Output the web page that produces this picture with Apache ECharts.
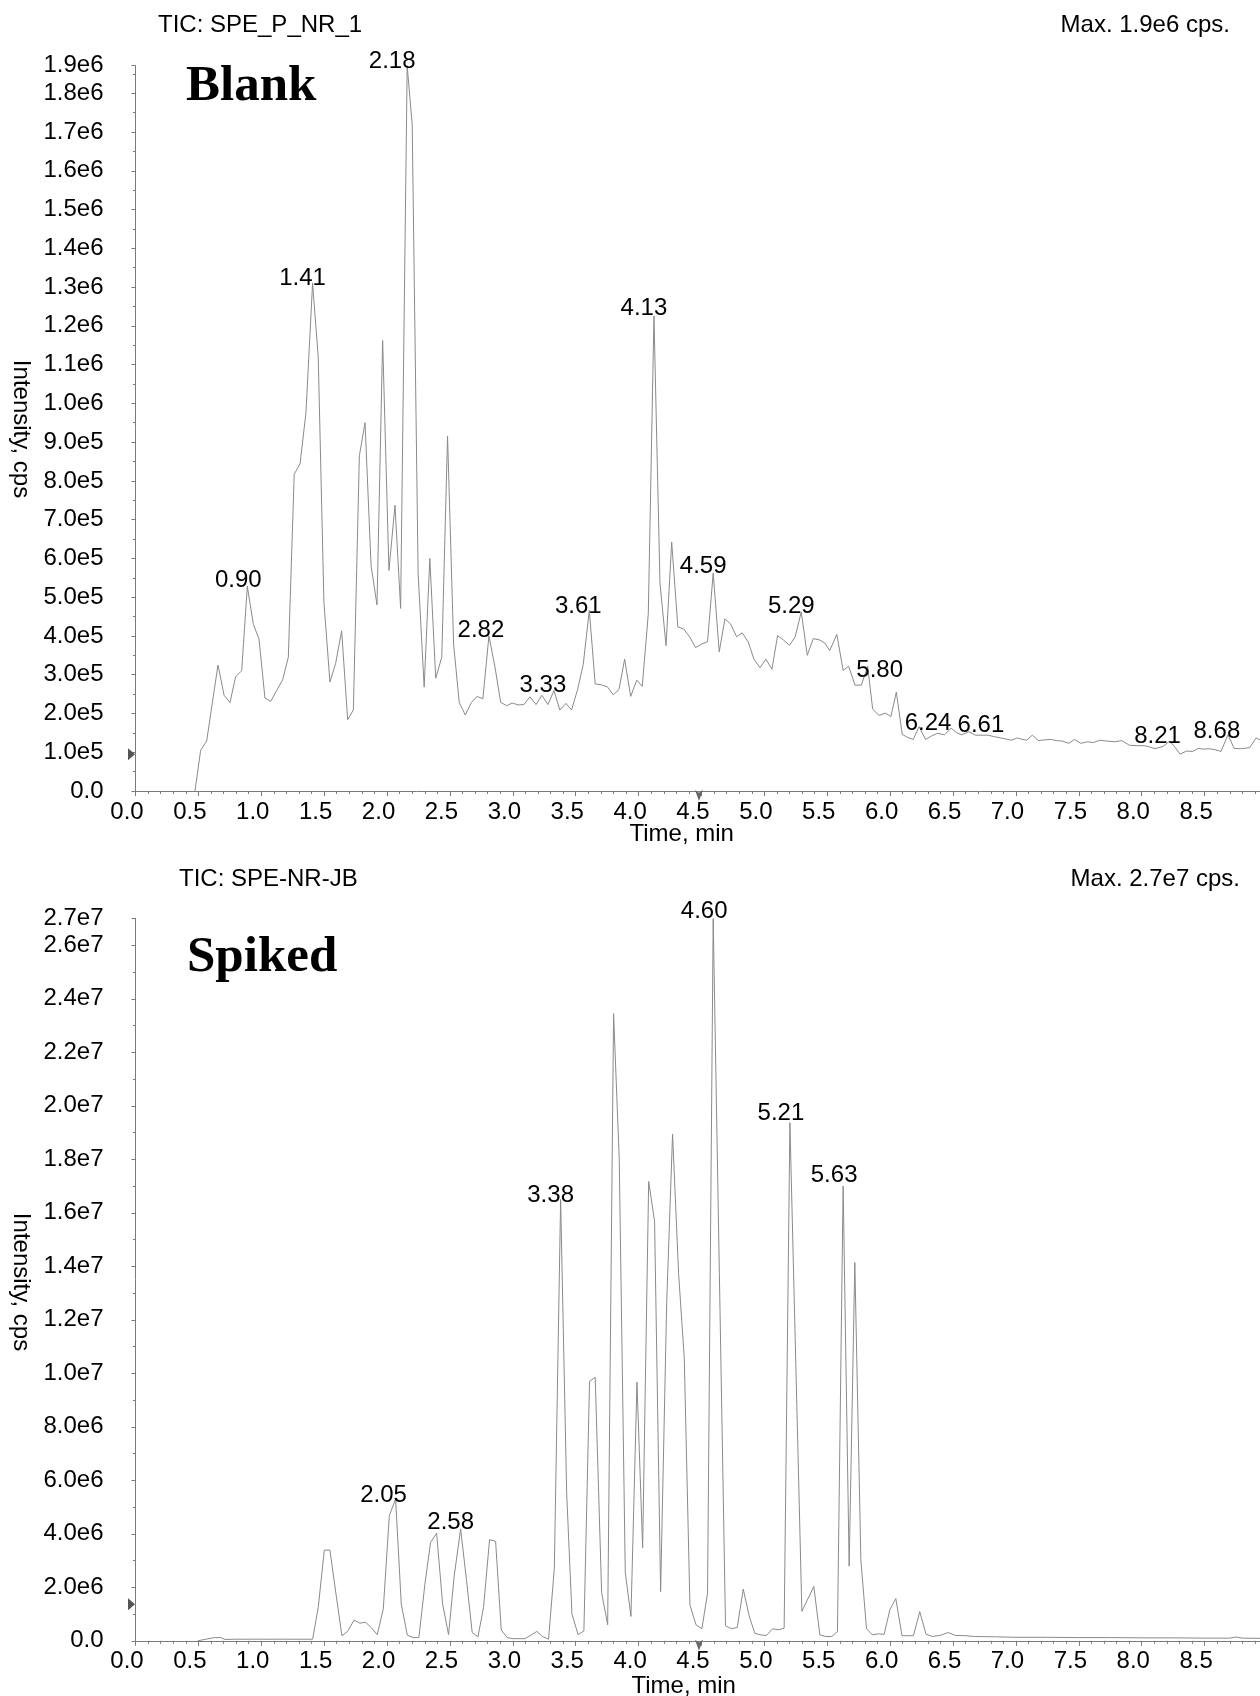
<!DOCTYPE html>
<html>
<head>
<meta charset="utf-8">
<title>TIC: Blank / Spiked</title>
<script src="https://cdn.jsdelivr.net/npm/echarts/dist/echarts.min.js"></script>
<style>
  html, body { margin: 0; padding: 0; background: #fff; }
  #main { width: 1260px; height: 1696px; }
</style>
</head>
<body>
<div id="main"></div>
<script>
// TIC blank: time (min) / intensity (x1e5 cps)
var blankTime = [0.473,0.518,0.566,0.611,0.656,0.704,0.751,0.796,0.844,0.889,
  0.937,0.982,1.029,1.075,1.122,1.170,1.215,1.262,1.308,1.355,
  1.408,1.453,1.498,1.546,1.591,1.639,1.687,1.732,1.780,1.825,
  1.873,1.920,1.965,2.015,2.063,2.108,2.160,2.200,2.247,2.295,
  2.340,2.387,2.435,2.481,2.529,2.574,2.622,2.670,2.715,2.762,
  2.810,2.857,2.903,2.950,2.995,3.043,3.088,3.136,3.184,3.231,
  3.279,3.327,3.374,3.422,3.467,3.515,3.560,3.608,3.655,3.703,
  3.751,3.799,3.844,3.889,3.937,3.985,4.029,4.077,4.122,4.170,
  4.218,4.263,4.312,4.358,4.405,4.453,4.501,4.548,4.593,4.641,
  4.686,4.731,4.779,4.824,4.872,4.917,4.965,5.012,5.060,5.105,
  5.153,5.200,5.245,5.293,5.341,5.388,5.436,5.480,5.519,5.576,
  5.626,5.670,5.720,5.771,5.821,5.861,5.912,5.962,6.006,6.049,
  6.096,6.140,6.183,6.230,6.281,6.330,6.375,6.432,6.485,6.530,
  6.569,6.626,6.677,6.730,6.777,6.830,6.878,6.920,6.962,7.012,
  7.050,7.086,7.130,7.180,7.230,7.281,7.320,7.365,7.422,7.466,
  7.516,7.567,7.617,7.667,7.720,7.785,7.842,7.902,7.960,8.020,
  8.060,8.104,8.171,8.221,8.260,8.305,8.356,8.406,8.450,8.490,
  8.540,8.590,8.631,8.685,8.735,8.792,8.859,8.910,8.954];
var blankInt = [0,1.05,1.29,2.28,3.25,2.47,2.28,2.95,3.10,5.28,
  4.30,3.92,2.40,2.31,2.59,2.87,3.45,8.17,8.44,9.75,
  13.1,11.18,4.87,2.81,3.29,4.13,1.84,2.09,8.65,9.50,
  5.81,4.80,11.62,5.69,7.37,4.71,18.71,17.18,5.62,2.68,
  6.0,2.91,3.45,9.16,3.79,2.28,1.96,2.28,2.44,2.38,
  4.0,3.22,2.29,2.20,2.27,2.22,2.23,2.43,2.23,2.47,
  2.23,2.59,2.09,2.26,2.09,2.62,3.27,4.66,2.76,2.74,
  2.69,2.48,2.62,3.40,2.44,2.86,2.70,4.57,12.25,5.36,
  3.75,6.42,4.23,4.18,3.98,3.70,3.79,3.85,5.62,3.59,
  4.44,4.31,3.98,4.08,3.84,3.40,3.18,3.40,3.14,4.01,
  3.89,3.76,3.98,4.62,3.50,3.93,3.90,3.82,3.62,4.04,
  3.11,3.22,2.73,2.73,3.22,2.11,1.95,2.01,1.92,2.55,
  1.46,1.38,1.33,1.66,1.33,1.42,1.49,1.45,1.62,1.50,
  1.45,1.53,1.44,1.44,1.44,1.40,1.37,1.34,1.31,1.37,
  1.33,1.31,1.44,1.30,1.32,1.33,1.30,1.29,1.23,1.33,
  1.23,1.27,1.25,1.31,1.29,1.27,1.30,1.18,1.17,1.17,
  1.14,1.09,1.15,1.29,1.15,0.95,1.03,1.02,1.10,1.08,
  1.09,1.06,1.02,1.45,1.10,1.09,1.12,1.37,1.29];

// TIC spiked: time (min) / intensity (x1e6 cps)
var spikedTime = [0.495,0.560,0.629,0.679,0.712,0.800,0.900,1.000,1.100,1.200,
  1.300,1.408,1.453,1.501,1.546,1.594,1.641,1.686,1.737,1.784,
  1.830,1.877,1.922,1.970,2.018,2.068,2.113,2.161,2.208,2.253,
  2.301,2.346,2.394,2.442,2.489,2.534,2.585,2.632,2.677,2.723,
  2.767,2.815,2.863,2.908,2.956,3.003,3.050,3.096,3.144,3.191,
  3.236,3.284,3.330,3.380,3.428,3.470,3.519,3.565,3.610,3.655,
  3.706,3.754,3.801,3.846,3.894,3.939,3.987,4.032,4.080,4.127,
  4.175,4.223,4.270,4.318,4.363,4.408,4.456,4.503,4.548,4.593,
  4.691,4.739,4.784,4.832,4.879,4.924,4.972,5.017,5.065,5.112,
  5.157,5.203,5.298,5.393,5.441,5.489,5.536,5.581,5.626,5.674,
  5.719,5.767,5.812,5.859,5.907,5.952,5.997,6.045,6.094,6.140,
  6.185,6.235,6.285,6.335,6.402,6.462,6.519,6.603,6.670,6.837,
  7.000,7.250,7.500,7.750,8.000,8.250,8.500,8.700,8.750,8.800,
  8.950];
var spikedInt = [0,0.06,0.12,0.12,0.05,0.06,0.06,0.06,0.06,0.06,
  0.06,0.06,1.25,3.39,3.39,1.75,0.19,0.35,0.77,0.66,
  0.69,0.48,0.23,1.19,4.68,5.30,1.37,0.21,0.12,0.12,
  2.12,3.68,4.02,1.37,0.23,2.43,4.18,2.25,0.31,0.15,
  1.25,3.78,3.72,0.40,0.12,0.08,0.08,0.08,0.21,0.35,
  0.16,0.06,2.71,16.5,5.53,1.0,0.23,0.37,9.70,9.85,
  1.80,0.60,23.45,18.01,2.55,0.91,9.67,3.48,17.17,15.68,
  1.84,12.61,18.94,13.73,10.56,1.34,0.60,0.45,1.77,27.0,
  0.56,0.45,0.50,1.93,0.93,0.28,0.22,0.20,0.45,0.41,
  0.47,19.37,1.10,2.03,0.22,0.16,0.16,0.35,17.0,2.79,
  14.14,3.02,0.45,0.22,0.26,0.24,1.15,1.58,0.19,0.19,
  0.19,1.09,0.25,0.16,0.21,0.31,0.20,0.19,0.16,0.15,
  0.13,0.13,0.12,0.12,0.11,0.11,0.10,0.10,0.14,0.10,
  0.09];

// peak labels
var blankPeakText = ['0.90','1.41','2.18','2.82','3.33','3.61','4.13','4.59','5.29','5.80','6.24','6.61','8.21','8.68'];
var blankPeakTime = [0.889,1.408,2.160,2.810,3.327,3.608,4.122,4.593,5.293,5.821,6.230,6.626,8.221,8.685];
var blankPeakInt  = [5.28,13.1,18.71,4.0,2.59,4.66,12.25,5.62,4.62,3.22,1.66,1.53,1.29,1.45];
var spikedPeakText = ['2.05','2.58','3.38','4.60','5.21','5.63'];
var spikedPeakTime = [2.068,2.585,3.380,4.593,5.203,5.626];
var spikedPeakInt  = [5.30,4.18,16.5,27.0,19.37,17.0];

// axis extents
var blankMax = 1871000;
var spikedMax = 27010000;
var timeMax = 9.0;

// label placement (style only)
var labelShift = {
  '0.90': [-9, -6], '1.41': [-10, -5], '2.18': [-15, -4], '2.82': [-8, -6],
  '3.33': [-11, -5], '3.61': [-11, -4], '4.13': [-10, -8], '4.59': [-10, -7],
  '5.29': [-10, -6], '5.80': [12, 4], '6.24': [9, -3], '6.61': [12, -6],
  '8.21': [-12, -5], '8.68': [-11, -3],
  '2.05': [-12, -4], '2.58': [-10, -7], '3.38': [-10, -4], '4.60': [-9, -7],
  '5.21': [-9, -9], '5.63': [-9, -11]
};

var FONT = '"Liberation Sans", Arial, Helvetica, sans-serif';
var AXIS_COLOR = '#7a7a7a';
var LINE_COLOR = '#8a8a8a';

function toPairs(t, v, unit) {
  return t.map(function (x, i) { return [x, v[i] * unit]; });
}

function peakMarks(times, ints, texts, unit) {
  return texts.map(function (txt, i) {
    return {
      name: txt,
      coord: [times[i], ints[i] * unit],
      symbolSize: 0,
      label: { offset: labelShift[txt] || [-10, -6] }
    };
  });
}

// small dark markers on the axes
function axisMarks(yMark, xMark) {
  return [
    { name: '', coord: [0, yMark], symbol: 'triangle', symbolSize: [12, 7], symbolRotate: -90,
      symbolOffset: [-4, 0], itemStyle: { color: '#555' }, label: { show: false } },
    { name: '', coord: [xMark, 0], symbol: 'arrow', symbolSize: [6, 11], symbolRotate: 180,
      symbolOffset: [0, 10], itemStyle: { color: '#666' }, label: { show: false } }
  ];
}

function yFmt(v) {
  return v === 0 ? '0.0' : v.toExponential(1).replace('e+', 'e');
}

function xAxisOf(idx) {
  return {
    type: 'value', gridIndex: idx, min: 0, max: timeMax, interval: 0.5,
    axisLine: { show: true, lineStyle: { color: AXIS_COLOR, width: 1 } },
    axisTick: { show: true, length: 5, lineStyle: { color: AXIS_COLOR } },
    minorTick: { show: true, splitNumber: 5, length: 3, lineStyle: { color: AXIS_COLOR } },
    splitLine: { show: false },
    axisLabel: {
      formatter: function (v) { return v.toFixed(1); },
      showMaxLabel: false, margin: 9, color: '#000', fontSize: 24, fontFamily: FONT,
      padding: [0, 17, 0, 0]
    }
  };
}

function yAxisOf(idx, max, interval) {
  return {
    type: 'value', gridIndex: idx, min: 0, max: max, interval: interval,
    axisLine: { show: true, lineStyle: { color: AXIS_COLOR, width: 1 } },
    axisTick: { show: true, length: 4, lineStyle: { color: AXIS_COLOR } },
    minorTick: { show: true, splitNumber: 2, length: 2.5, lineStyle: { color: AXIS_COLOR } },
    splitLine: { show: false },
    axisLabel: {
      formatter: yFmt, showMinLabel: true, showMaxLabel: true, margin: 32,
      color: '#000', fontSize: 24, fontFamily: FONT, padding: [16, 0, 0, 0]
    }
  };
}

function lineSeries(idx, data, marks) {
  return {
    type: 'line', xAxisIndex: idx, yAxisIndex: idx, data: data,
    symbol: 'none', showSymbol: false, clip: true, animation: false,
    lineStyle: { color: LINE_COLOR, width: 1 },
    itemStyle: { color: LINE_COLOR },
    markPoint: {
      animation: false, silent: true, symbol: 'circle', symbolSize: 0,
      label: { show: true, position: 'inside', formatter: '{b}', color: '#000', fontSize: 24, fontFamily: FONT },
      data: marks
    }
  };
}

function txt(x, y, s, opt) {
  opt = opt || {};
  return {
    type: 'text', x: x, y: y, rotation: opt.rotation || 0, silent: true,
    style: {
      text: s, fill: '#000',
      font: opt.font || ('24px ' + FONT),
      align: opt.align || 'left', verticalAlign: 'middle'
    }
  };
}

var chart = echarts.init(document.getElementById('main'));

var option = {
  backgroundColor: '#fff',
  animation: false,
  grid: [
    { left: 135.5, right: -7.5, top: 65.7, height: 725.3, outerBoundsMode: 'none', containLabel: false },
    { left: 135.5, right: -7.5, top: 918.3, height: 722.5, outerBoundsMode: 'none', containLabel: false }
  ],
  xAxis: [xAxisOf(0), xAxisOf(1)],
  yAxis: [yAxisOf(0, blankMax, 100000), yAxisOf(1, spikedMax, 2000000)],
  series: [
    lineSeries(0, toPairs(blankTime, blankInt, 1e5),
      peakMarks(blankPeakTime, blankPeakInt, blankPeakText, 1e5).concat(axisMarks(95000, 4.48))),
    lineSeries(1, toPairs(spikedTime, spikedInt, 1e6),
      peakMarks(spikedPeakTime, spikedPeakInt, spikedPeakText, 1e6).concat(axisMarks(1370000, 4.48)))
  ],
  graphic: [
    txt(158, 25.5, 'TIC: SPE_P_NR_1'),
    txt(1230, 25.5, 'Max. 1.9e6 cps.', { align: 'right' }),
    txt(186, 87, 'Blank', { font: 'bold 51px "Liberation Serif", "Times New Roman", serif' }),
    txt(21, 429, 'Intensity, cps', { rotation: -Math.PI / 2, align: 'center' }),
    txt(629.5, 834, 'Time, min'),

    txt(179, 879, 'TIC: SPE-NR-JB'),
    txt(1240, 879, 'Max. 2.7e7 cps.', { align: 'right' }),
    txt(187, 958, 'Spiked', { font: 'bold 51px "Liberation Serif", "Times New Roman", serif' }),
    txt(21, 1282, 'Intensity, cps', { rotation: -Math.PI / 2, align: 'center' }),
    txt(631.5, 1686, 'Time, min')
  ]
};

chart.setOption(option);
</script>
</body>
</html>
